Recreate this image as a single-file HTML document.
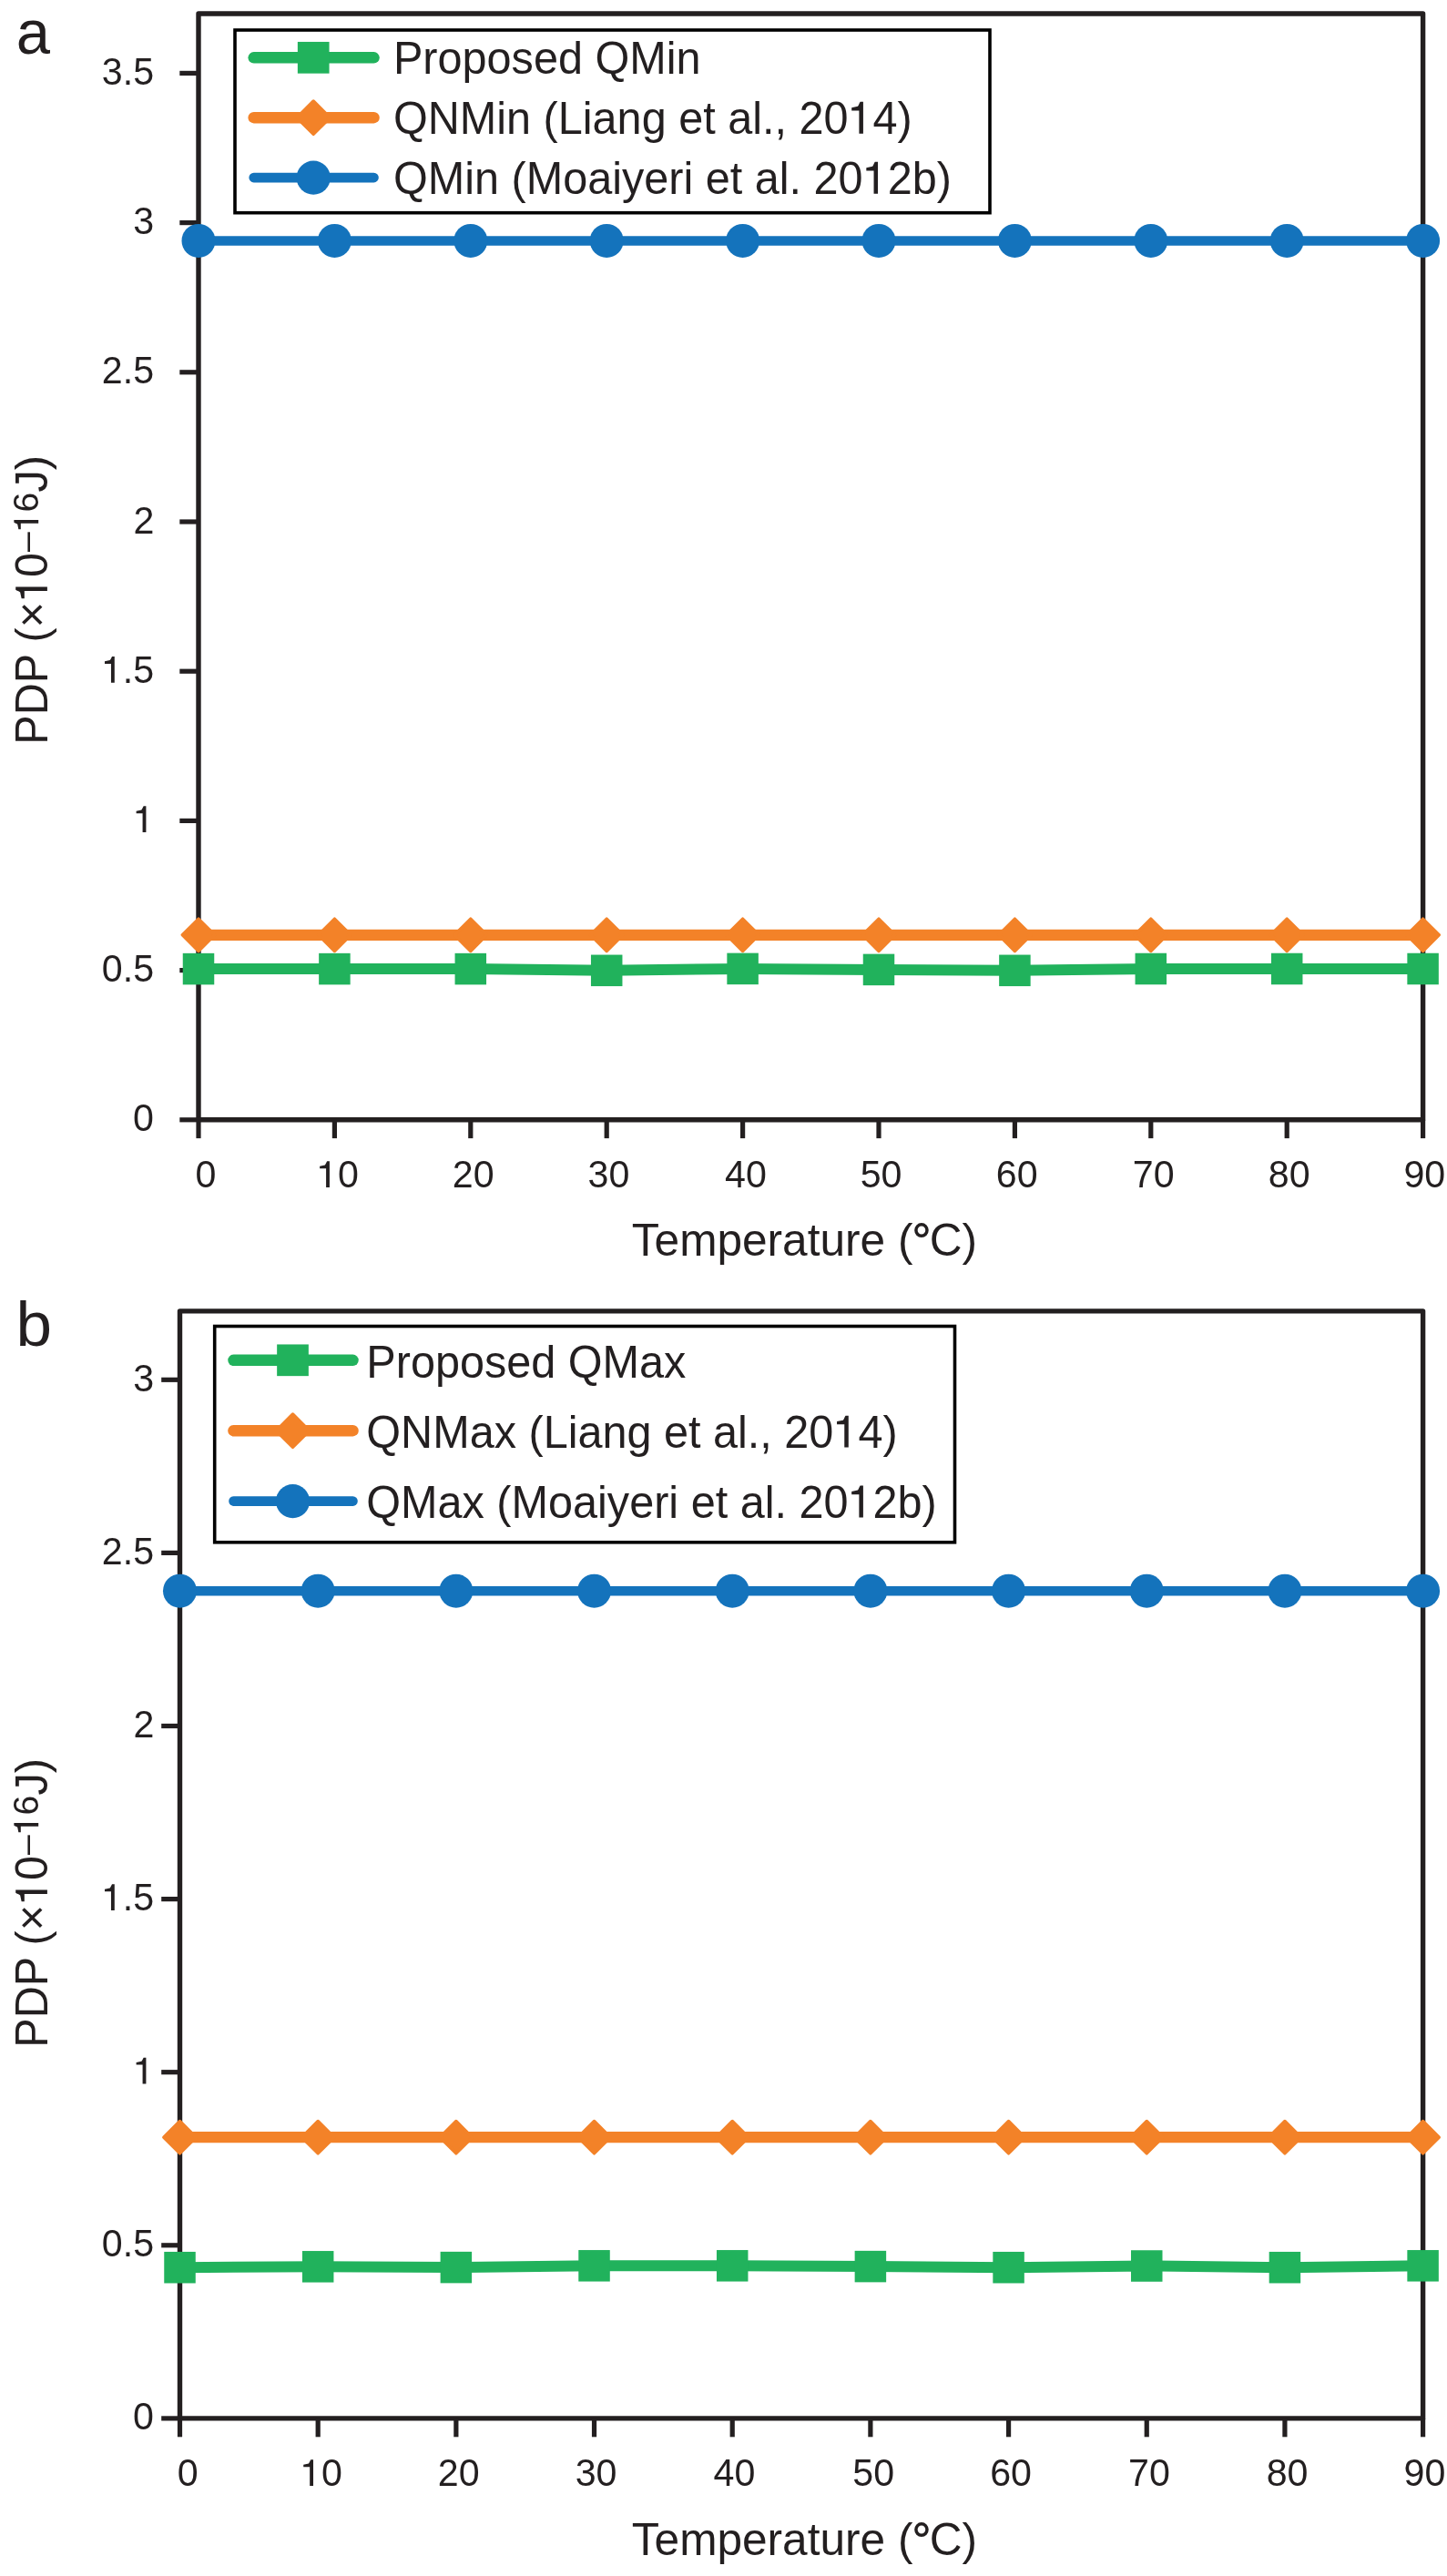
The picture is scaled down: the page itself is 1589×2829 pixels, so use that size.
<!DOCTYPE html>
<html><head><meta charset="utf-8"><title>PDP vs Temperature</title>
<style>html,body{margin:0;padding:0;background:#fff;overflow:hidden;}svg{display:block;will-change:transform;}text{font-family:"Liberation Sans",sans-serif;fill:#231f20;}</style>
</head><body>
<svg width="1589" height="2829" viewBox="0 0 1589 2829">
<rect width="1589" height="2829" fill="#fff"/>
<g stroke="#231f20" stroke-width="5.2" fill="none">
<path d="M218 15.05L1562.6 15.05L1562.6 1229.8L218 1229.8Z" stroke-linejoin="round" stroke-width="5.4"/>
<line x1="197.3" y1="1229.8" x2="218" y2="1229.8"/>
<line x1="197.3" y1="1065.6" x2="218" y2="1065.6"/>
<line x1="197.3" y1="901.4" x2="218" y2="901.4"/>
<line x1="197.3" y1="737.2" x2="218" y2="737.2"/>
<line x1="197.3" y1="573" x2="218" y2="573"/>
<line x1="197.3" y1="408.8" x2="218" y2="408.8"/>
<line x1="197.3" y1="244.6" x2="218" y2="244.6"/>
<line x1="197.3" y1="80.4" x2="218" y2="80.4"/>
<line x1="218" y1="1229.8" x2="218" y2="1250.1"/>
<line x1="367.4" y1="1229.8" x2="367.4" y2="1250.1"/>
<line x1="516.8" y1="1229.8" x2="516.8" y2="1250.1"/>
<line x1="666.2" y1="1229.8" x2="666.2" y2="1250.1"/>
<line x1="815.6" y1="1229.8" x2="815.6" y2="1250.1"/>
<line x1="965" y1="1229.8" x2="965" y2="1250.1"/>
<line x1="1114.4" y1="1229.8" x2="1114.4" y2="1250.1"/>
<line x1="1263.8" y1="1229.8" x2="1263.8" y2="1250.1"/>
<line x1="1413.2" y1="1229.8" x2="1413.2" y2="1250.1"/>
<line x1="1562.6" y1="1229.8" x2="1562.6" y2="1250.1"/>
</g>
<text transform="translate(169.009 1242.295) scale(1 1.015)" font-size="41.2" text-anchor="end">0</text>
<text transform="translate(169.13 1078.095) scale(1 1.015)" font-size="41.2" text-anchor="end">0.5</text>
<g transform="translate(169.412 914.1) scale(1 1.015)"><text font-size="41.2" text-anchor="end"> </text>
<path transform="translate(-22.921 0) scale(0.02012 -0.02012)" d="M692 0L692 1409L556 1409C520 1366.73 480 1239.92 442 1207.513L156 1148.335L156 1018.707L502 1018.707L502 0Z" fill="#231f20"/>
</g>
<g transform="translate(169.13 749.695) scale(1 1.015)"><text font-size="41.2" text-anchor="end"> .5</text>
<path transform="translate(-57.272 0) scale(0.02012 -0.02012)" d="M692 0L692 1409L556 1409C520 1366.73 480 1239.92 442 1207.513L156 1148.335L156 1018.707L502 1018.707L502 0Z" fill="#231f20"/>
</g>
<text transform="translate(169.472 585.7) scale(1 1.015)" font-size="41.2" text-anchor="end">2</text>
<text transform="translate(169.13 421.295) scale(1 1.015)" font-size="41.2" text-anchor="end">2.5</text>
<text transform="translate(169.211 257.095) scale(1 1.015)" font-size="41.2" text-anchor="end">3</text>
<text transform="translate(169.13 92.895) scale(1 1.015)" font-size="41.2" text-anchor="end">3.5</text>
<text transform="translate(226 1304.1) scale(1 1.015)" font-size="41.2" text-anchor="middle">0</text>
<g transform="translate(370.9 1304.1) scale(1 1.015)"><text font-size="41.2" text-anchor="middle"> 0</text>
<path transform="translate(-22.913 0) scale(0.02012 -0.02012)" d="M692 0L692 1409L556 1409C520 1366.73 480 1239.92 442 1207.513L156 1148.335L156 1018.707L502 1018.707L502 0Z" fill="#231f20"/>
</g>
<text transform="translate(519.7 1304.1) scale(1 1.015)" font-size="41.2" text-anchor="middle">20</text>
<text transform="translate(668.4 1304.1) scale(1 1.015)" font-size="41.2" text-anchor="middle">30</text>
<text transform="translate(819 1304.1) scale(1 1.015)" font-size="41.2" text-anchor="middle">40</text>
<text transform="translate(967.6 1304.1) scale(1 1.015)" font-size="41.2" text-anchor="middle">50</text>
<text transform="translate(1116.7 1304.1) scale(1 1.015)" font-size="41.2" text-anchor="middle">60</text>
<text transform="translate(1266.7 1304.1) scale(1 1.015)" font-size="41.2" text-anchor="middle">70</text>
<text transform="translate(1415.65 1304.1) scale(1 1.015)" font-size="41.2" text-anchor="middle">80</text>
<text transform="translate(1564.3 1304.1) scale(1 1.015)" font-size="41.2" text-anchor="middle">90</text>
<path d="M218 264.4L367.4 264.4L516.8 264.4L666.2 264.4L815.6 264.4L965 264.4L1114.4 264.4L1263.8 264.4L1413.2 264.4L1562.6 264.4" stroke="#1473bc" stroke-width="10.5" fill="none" stroke-linejoin="round"/>
<circle cx="218" cy="264.4" r="18.5" fill="#1473bc"/>
<circle cx="367.4" cy="264.4" r="18.5" fill="#1473bc"/>
<circle cx="516.8" cy="264.4" r="18.5" fill="#1473bc"/>
<circle cx="666.2" cy="264.4" r="18.5" fill="#1473bc"/>
<circle cx="815.6" cy="264.4" r="18.5" fill="#1473bc"/>
<circle cx="965" cy="264.4" r="18.5" fill="#1473bc"/>
<circle cx="1114.4" cy="264.4" r="18.5" fill="#1473bc"/>
<circle cx="1263.8" cy="264.4" r="18.5" fill="#1473bc"/>
<circle cx="1413.2" cy="264.4" r="18.5" fill="#1473bc"/>
<circle cx="1562.6" cy="264.4" r="18.5" fill="#1473bc"/>
<path d="M218 1026.849L367.4 1026.849L516.8 1026.849L666.2 1026.849L815.6 1026.849L965 1026.849L1114.4 1026.849L1263.8 1026.849L1413.2 1026.849L1562.6 1026.849" stroke="#f38228" stroke-width="12.2" fill="none" stroke-linejoin="round"/>
<path d="M218 1009.199L235.65 1026.849L218 1044.499L200.35 1026.849Z" fill="#f38228" stroke="#f38228" stroke-width="3.5" stroke-linejoin="round"/>
<path d="M367.4 1009.199L385.05 1026.849L367.4 1044.499L349.75 1026.849Z" fill="#f38228" stroke="#f38228" stroke-width="3.5" stroke-linejoin="round"/>
<path d="M516.8 1009.199L534.45 1026.849L516.8 1044.499L499.15 1026.849Z" fill="#f38228" stroke="#f38228" stroke-width="3.5" stroke-linejoin="round"/>
<path d="M666.2 1009.199L683.85 1026.849L666.2 1044.499L648.55 1026.849Z" fill="#f38228" stroke="#f38228" stroke-width="3.5" stroke-linejoin="round"/>
<path d="M815.6 1009.199L833.25 1026.849L815.6 1044.499L797.95 1026.849Z" fill="#f38228" stroke="#f38228" stroke-width="3.5" stroke-linejoin="round"/>
<path d="M965 1009.199L982.65 1026.849L965 1044.499L947.35 1026.849Z" fill="#f38228" stroke="#f38228" stroke-width="3.5" stroke-linejoin="round"/>
<path d="M1114.4 1009.199L1132.05 1026.849L1114.4 1044.499L1096.75 1026.849Z" fill="#f38228" stroke="#f38228" stroke-width="3.5" stroke-linejoin="round"/>
<path d="M1263.8 1009.199L1281.45 1026.849L1263.8 1044.499L1246.15 1026.849Z" fill="#f38228" stroke="#f38228" stroke-width="3.5" stroke-linejoin="round"/>
<path d="M1413.2 1009.199L1430.85 1026.849L1413.2 1044.499L1395.55 1026.849Z" fill="#f38228" stroke="#f38228" stroke-width="3.5" stroke-linejoin="round"/>
<path d="M1562.6 1009.199L1580.25 1026.849L1562.6 1044.499L1544.95 1026.849Z" fill="#f38228" stroke="#f38228" stroke-width="3.5" stroke-linejoin="round"/>
<path d="M218 1064.1L367.4 1064.1L516.8 1064.1L666.2 1065.8L815.6 1063.9L965 1064.9L1114.4 1065.8L1263.8 1064L1413.2 1064L1562.6 1064" stroke="#21b25c" stroke-width="12" fill="none" stroke-linejoin="round"/>
<rect x="200.75" y="1046.85" width="34.5" height="34.5" fill="#21b25c"/>
<rect x="350.15" y="1046.85" width="34.5" height="34.5" fill="#21b25c"/>
<rect x="499.55" y="1046.85" width="34.5" height="34.5" fill="#21b25c"/>
<rect x="648.95" y="1048.55" width="34.5" height="34.5" fill="#21b25c"/>
<rect x="798.35" y="1046.65" width="34.5" height="34.5" fill="#21b25c"/>
<rect x="947.75" y="1047.65" width="34.5" height="34.5" fill="#21b25c"/>
<rect x="1097.15" y="1048.55" width="34.5" height="34.5" fill="#21b25c"/>
<rect x="1246.55" y="1046.75" width="34.5" height="34.5" fill="#21b25c"/>
<rect x="1395.95" y="1046.75" width="34.5" height="34.5" fill="#21b25c"/>
<rect x="1545.35" y="1046.75" width="34.5" height="34.5" fill="#21b25c"/>
<rect x="258" y="33" width="829" height="200.7" fill="none" stroke="#000" stroke-width="3.6"/>
<line x1="278.7" y1="63.3" x2="410.5" y2="63.3" stroke="#21b25c" stroke-width="12.5" stroke-linecap="round"/>
<rect x="326.85" y="45.95" width="34.7" height="34.7" fill="#21b25c"/>
<text transform="translate(431.95 80.8) scale(1 1.045)" font-size="48.6">Proposed QMin</text>
<line x1="278.7" y1="129.2" x2="410.5" y2="129.2" stroke="#f38228" stroke-width="12.5" stroke-linecap="round"/>
<path d="M344.2 111.05L362.35 129.2L344.2 147.35L326.05 129.2Z" fill="#f38228" stroke="#f38228" stroke-width="3.5" stroke-linejoin="round"/>
<g transform="translate(431.95 146.7) scale(1 1.045)"><text font-size="48.6">QNMin (Liang et al., 20 4)</text>
<path transform="translate(499.558 0) scale(0.02373 -0.02373)" d="M692 0L692 1409L556 1409C520 1366.73 480 1239.92 442 1207.513L156 1148.335L156 1018.707L502 1018.707L502 0Z" fill="#231f20"/>
</g>
<line x1="278.7" y1="195.1" x2="410.5" y2="195.1" stroke="#1473bc" stroke-width="10.6" stroke-linecap="round"/>
<circle cx="344.2" cy="195.1" r="18.6" fill="#1473bc"/>
<g transform="translate(431.95 212.7) scale(1 1.045)"><text font-size="48.6">QMin (Moaiyeri et al. 20 2b)</text>
<path transform="translate(515.676 0) scale(0.02373 -0.02373)" d="M692 0L692 1409L556 1409C520 1366.73 480 1239.92 442 1207.513L156 1148.335L156 1018.707L502 1018.707L502 0Z" fill="#231f20"/>
</g>
<g transform="translate(51.9 817.7) rotate(-90) scale(1 1.04)"><text font-size="48.5">PDP (× 0</text>
<path transform="translate(156.756 0) scale(0.02368 -0.02368)" d="M692 0L692 1409L556 1409C520 1366.73 480 1239.92 442 1207.513L156 1148.335L156 1018.707L502 1018.707L502 0Z" fill="#231f20"/>
</g>
<g transform="translate(42.2 605.9) rotate(-90)"><text font-size="39">– 6</text>
<path transform="translate(21.688 0) scale(0.01904 -0.01904)" d="M692 0L692 1409L556 1409C520 1366.73 480 1239.92 442 1207.513L156 1148.335L156 1018.707L502 1018.707L502 0Z" fill="#231f20"/>
</g>
<text transform="translate(51.9 540.6) rotate(-90) scale(1 1.04)" font-size="48.5">J)</text>
<text transform="translate(693.8 1379.3) scale(1 1.01)" font-size="49.6">Temperature (</text>
<ellipse cx="1011.95" cy="1351.05" rx="6.05" ry="6.3" fill="none" stroke="#231f20" stroke-width="3.5"/>
<text transform="translate(1020.8 1379.3) scale(1 1.01)" font-size="49.6">C)</text>
<text transform="translate(17.75 58.55) scale(1 1.03)" font-size="67">a</text>
<g stroke="#231f20" stroke-width="5.2" fill="none">
<path d="M197.5 1439.85L1562.6 1439.85L1562.6 2655.9L197.5 2655.9Z" stroke-linejoin="round" stroke-width="5.4"/>
<line x1="177.2" y1="2655.9" x2="197.5" y2="2655.9"/>
<line x1="177.2" y1="2465.8" x2="197.5" y2="2465.8"/>
<line x1="177.2" y1="2275.7" x2="197.5" y2="2275.7"/>
<line x1="177.2" y1="2085.6" x2="197.5" y2="2085.6"/>
<line x1="177.2" y1="1895.5" x2="197.5" y2="1895.5"/>
<line x1="177.2" y1="1705.4" x2="197.5" y2="1705.4"/>
<line x1="177.2" y1="1515.3" x2="197.5" y2="1515.3"/>
<line x1="197.5" y1="2655.9" x2="197.5" y2="2676.3"/>
<line x1="349.178" y1="2655.9" x2="349.178" y2="2676.3"/>
<line x1="500.856" y1="2655.9" x2="500.856" y2="2676.3"/>
<line x1="652.533" y1="2655.9" x2="652.533" y2="2676.3"/>
<line x1="804.211" y1="2655.9" x2="804.211" y2="2676.3"/>
<line x1="955.889" y1="2655.9" x2="955.889" y2="2676.3"/>
<line x1="1107.567" y1="2655.9" x2="1107.567" y2="2676.3"/>
<line x1="1259.244" y1="2655.9" x2="1259.244" y2="2676.3"/>
<line x1="1410.922" y1="2655.9" x2="1410.922" y2="2676.3"/>
<line x1="1562.6" y1="2655.9" x2="1562.6" y2="2676.3"/>
</g>
<text transform="translate(169.009 2668.395) scale(1 1.015)" font-size="41.2" text-anchor="end">0</text>
<text transform="translate(169.13 2478.295) scale(1 1.015)" font-size="41.2" text-anchor="end">0.5</text>
<g transform="translate(169.412 2288.4) scale(1 1.015)"><text font-size="41.2" text-anchor="end"> </text>
<path transform="translate(-22.921 0) scale(0.02012 -0.02012)" d="M692 0L692 1409L556 1409C520 1366.73 480 1239.92 442 1207.513L156 1148.335L156 1018.707L502 1018.707L502 0Z" fill="#231f20"/>
</g>
<g transform="translate(169.13 2098.095) scale(1 1.015)"><text font-size="41.2" text-anchor="end"> .5</text>
<path transform="translate(-57.272 0) scale(0.02012 -0.02012)" d="M692 0L692 1409L556 1409C520 1366.73 480 1239.92 442 1207.513L156 1148.335L156 1018.707L502 1018.707L502 0Z" fill="#231f20"/>
</g>
<text transform="translate(169.472 1908.2) scale(1 1.015)" font-size="41.2" text-anchor="end">2</text>
<text transform="translate(169.13 1717.895) scale(1 1.015)" font-size="41.2" text-anchor="end">2.5</text>
<text transform="translate(169.211 1527.795) scale(1 1.015)" font-size="41.2" text-anchor="end">3</text>
<text transform="translate(206.2 2730.1) scale(1 1.015)" font-size="41.2" text-anchor="middle">0</text>
<g transform="translate(353 2730.1) scale(1 1.015)"><text font-size="41.2" text-anchor="middle"> 0</text>
<path transform="translate(-22.913 0) scale(0.02012 -0.02012)" d="M692 0L692 1409L556 1409C520 1366.73 480 1239.92 442 1207.513L156 1148.335L156 1018.707L502 1018.707L502 0Z" fill="#231f20"/>
</g>
<text transform="translate(503.7 2730.1) scale(1 1.015)" font-size="41.2" text-anchor="middle">20</text>
<text transform="translate(654.6 2730.1) scale(1 1.015)" font-size="41.2" text-anchor="middle">30</text>
<text transform="translate(806.5 2730.1) scale(1 1.015)" font-size="41.2" text-anchor="middle">40</text>
<text transform="translate(959.2 2730.1) scale(1 1.015)" font-size="41.2" text-anchor="middle">50</text>
<text transform="translate(1110.1 2730.1) scale(1 1.015)" font-size="41.2" text-anchor="middle">60</text>
<text transform="translate(1262 2730.1) scale(1 1.015)" font-size="41.2" text-anchor="middle">70</text>
<text transform="translate(1413.6 2730.1) scale(1 1.015)" font-size="41.2" text-anchor="middle">80</text>
<text transform="translate(1564.4 2730.1) scale(1 1.015)" font-size="41.2" text-anchor="middle">90</text>
<path d="M197.5 1747.2L349.178 1747.2L500.856 1747.2L652.533 1747.2L804.211 1747.2L955.889 1747.2L1107.567 1747.2L1259.244 1747.2L1410.922 1747.2L1562.6 1747.2" stroke="#1473bc" stroke-width="10.5" fill="none" stroke-linejoin="round"/>
<circle cx="197.5" cy="1747.2" r="18.5" fill="#1473bc"/>
<circle cx="349.178" cy="1747.2" r="18.5" fill="#1473bc"/>
<circle cx="500.856" cy="1747.2" r="18.5" fill="#1473bc"/>
<circle cx="652.533" cy="1747.2" r="18.5" fill="#1473bc"/>
<circle cx="804.211" cy="1747.2" r="18.5" fill="#1473bc"/>
<circle cx="955.889" cy="1747.2" r="18.5" fill="#1473bc"/>
<circle cx="1107.567" cy="1747.2" r="18.5" fill="#1473bc"/>
<circle cx="1259.244" cy="1747.2" r="18.5" fill="#1473bc"/>
<circle cx="1410.922" cy="1747.2" r="18.5" fill="#1473bc"/>
<circle cx="1562.6" cy="1747.2" r="18.5" fill="#1473bc"/>
<path d="M197.5 2347.2L349.178 2347.2L500.856 2347.2L652.533 2347.2L804.211 2347.2L955.889 2347.2L1107.567 2347.2L1259.244 2347.2L1410.922 2347.2L1562.6 2347.2" stroke="#f38228" stroke-width="12.2" fill="none" stroke-linejoin="round"/>
<path d="M197.5 2329.55L215.15 2347.2L197.5 2364.85L179.85 2347.2Z" fill="#f38228" stroke="#f38228" stroke-width="3.5" stroke-linejoin="round"/>
<path d="M349.178 2329.55L366.828 2347.2L349.178 2364.85L331.528 2347.2Z" fill="#f38228" stroke="#f38228" stroke-width="3.5" stroke-linejoin="round"/>
<path d="M500.856 2329.55L518.506 2347.2L500.856 2364.85L483.206 2347.2Z" fill="#f38228" stroke="#f38228" stroke-width="3.5" stroke-linejoin="round"/>
<path d="M652.533 2329.55L670.183 2347.2L652.533 2364.85L634.883 2347.2Z" fill="#f38228" stroke="#f38228" stroke-width="3.5" stroke-linejoin="round"/>
<path d="M804.211 2329.55L821.861 2347.2L804.211 2364.85L786.561 2347.2Z" fill="#f38228" stroke="#f38228" stroke-width="3.5" stroke-linejoin="round"/>
<path d="M955.889 2329.55L973.539 2347.2L955.889 2364.85L938.239 2347.2Z" fill="#f38228" stroke="#f38228" stroke-width="3.5" stroke-linejoin="round"/>
<path d="M1107.567 2329.55L1125.217 2347.2L1107.567 2364.85L1089.917 2347.2Z" fill="#f38228" stroke="#f38228" stroke-width="3.5" stroke-linejoin="round"/>
<path d="M1259.244 2329.55L1276.894 2347.2L1259.244 2364.85L1241.594 2347.2Z" fill="#f38228" stroke="#f38228" stroke-width="3.5" stroke-linejoin="round"/>
<path d="M1410.922 2329.55L1428.572 2347.2L1410.922 2364.85L1393.272 2347.2Z" fill="#f38228" stroke="#f38228" stroke-width="3.5" stroke-linejoin="round"/>
<path d="M1562.6 2329.55L1580.25 2347.2L1562.6 2364.85L1544.95 2347.2Z" fill="#f38228" stroke="#f38228" stroke-width="3.5" stroke-linejoin="round"/>
<path d="M197.5 2490.2L349.178 2489.3L500.856 2490.1L652.533 2488.3L804.211 2488.3L955.889 2489.1L1107.567 2490.2L1259.244 2488.5L1410.922 2490.2L1562.6 2488.3" stroke="#21b25c" stroke-width="12" fill="none" stroke-linejoin="round"/>
<rect x="180.25" y="2472.95" width="34.5" height="34.5" fill="#21b25c"/>
<rect x="331.928" y="2472.05" width="34.5" height="34.5" fill="#21b25c"/>
<rect x="483.606" y="2472.85" width="34.5" height="34.5" fill="#21b25c"/>
<rect x="635.283" y="2471.05" width="34.5" height="34.5" fill="#21b25c"/>
<rect x="786.961" y="2471.05" width="34.5" height="34.5" fill="#21b25c"/>
<rect x="938.639" y="2471.85" width="34.5" height="34.5" fill="#21b25c"/>
<rect x="1090.317" y="2472.95" width="34.5" height="34.5" fill="#21b25c"/>
<rect x="1241.994" y="2471.25" width="34.5" height="34.5" fill="#21b25c"/>
<rect x="1393.672" y="2472.95" width="34.5" height="34.5" fill="#21b25c"/>
<rect x="1545.35" y="2471.05" width="34.5" height="34.5" fill="#21b25c"/>
<rect x="235.7" y="1456.5" width="812.8" height="237.3" fill="none" stroke="#000" stroke-width="3.6"/>
<line x1="256.5" y1="1493.8" x2="387.5" y2="1493.8" stroke="#21b25c" stroke-width="12.5" stroke-linecap="round"/>
<rect x="304.15" y="1476.45" width="34.7" height="34.7" fill="#21b25c"/>
<text transform="translate(402.3 1512.85) scale(1 1.045)" font-size="48.6">Proposed QMax</text>
<line x1="256.5" y1="1571.2" x2="387.5" y2="1571.2" stroke="#f38228" stroke-width="12.5" stroke-linecap="round"/>
<path d="M321.5 1553.05L339.65 1571.2L321.5 1589.35L303.35 1571.2Z" fill="#f38228" stroke="#f38228" stroke-width="3.5" stroke-linejoin="round"/>
<g transform="translate(402.3 1589.6) scale(1 1.045)"><text font-size="48.6">QNMax (Liang et al., 20 4)</text>
<path transform="translate(513.048 0) scale(0.02373 -0.02373)" d="M692 0L692 1409L556 1409C520 1366.73 480 1239.92 442 1207.513L156 1148.335L156 1018.707L502 1018.707L502 0Z" fill="#231f20"/>
</g>
<line x1="256.5" y1="1648.6" x2="387.5" y2="1648.6" stroke="#1473bc" stroke-width="10.6" stroke-linecap="round"/>
<circle cx="321.5" cy="1648.6" r="18.6" fill="#1473bc"/>
<g transform="translate(402.3 1666.5) scale(1 1.045)"><text font-size="48.6">QMax (Moaiyeri et al. 20 2b)</text>
<path transform="translate(529.181 0) scale(0.02373 -0.02373)" d="M692 0L692 1409L556 1409C520 1366.73 480 1239.92 442 1207.513L156 1148.335L156 1018.707L502 1018.707L502 0Z" fill="#231f20"/>
</g>
<g transform="translate(51.9 2248.7) rotate(-90) scale(1 1.04)"><text font-size="48.5">PDP (× 0</text>
<path transform="translate(156.756 0) scale(0.02368 -0.02368)" d="M692 0L692 1409L556 1409C520 1366.73 480 1239.92 442 1207.513L156 1148.335L156 1018.707L502 1018.707L502 0Z" fill="#231f20"/>
</g>
<g transform="translate(42.2 2036.9) rotate(-90)"><text font-size="39">– 6</text>
<path transform="translate(21.688 0) scale(0.01904 -0.01904)" d="M692 0L692 1409L556 1409C520 1366.73 480 1239.92 442 1207.513L156 1148.335L156 1018.707L502 1018.707L502 0Z" fill="#231f20"/>
</g>
<text transform="translate(51.9 1971.6) rotate(-90) scale(1 1.04)" font-size="48.5">J)</text>
<text transform="translate(693.8 2806.3) scale(1 1.01)" font-size="49.6">Temperature (</text>
<ellipse cx="1011.95" cy="2778.05" rx="6.05" ry="6.3" fill="none" stroke="#231f20" stroke-width="3.5"/>
<text transform="translate(1020.8 2806.3) scale(1 1.01)" font-size="49.6">C)</text>
<text transform="translate(17.45 1478.35) scale(1.06 1.03)" font-size="67">b</text>
</svg>
</body></html>
